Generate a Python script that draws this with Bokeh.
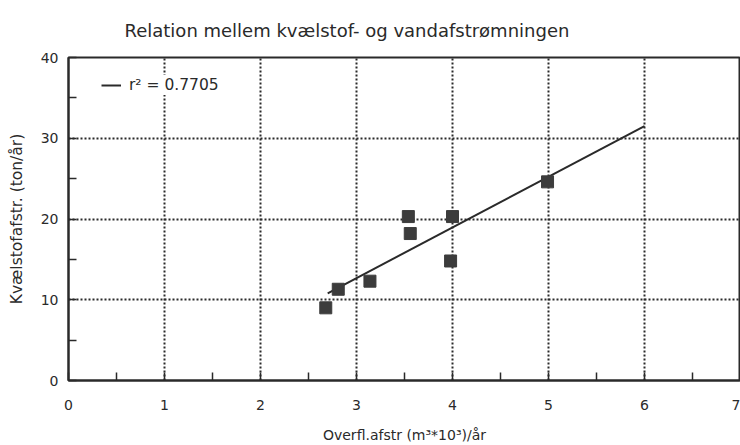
from bokeh.plotting import figure
from bokeh.models import Range1d, FixedTicker, Legend, LegendItem, Title
from bokeh.embed import file_html
from bokeh.resources import INLINE

# Data
flow = [2.68, 2.81, 3.14, 3.54, 3.56, 4.00, 3.98, 4.99]       # Overfl.afstr (m3*10^3)/år
nitrogen = [9.0, 11.3, 12.3, 20.3, 18.2, 20.3, 14.8, 24.6]    # Kvælstofafstr. (ton/år)
fit_x = [2.7, 6.0]
fit_y = [10.8, 31.5]
r2_label = "r² = 0.7705"
title_text = "Relation mellem kvælstof- og vandafstrømningen"
x_ticks = [0, 1, 2, 3, 4, 5, 6, 7]
y_ticks = [0, 10, 20, 30, 40]

FONT = "DejaVu Sans"
INK = "#2a2a2a"

p = figure(width=740, height=445, output_backend="svg", toolbar_location=None,
           x_range=Range1d(0, 7), y_range=Range1d(0, 40),
           min_border_left=68, min_border_right=0, min_border_top=57, min_border_bottom=62,
           title=Title(text=title_text, text_font=FONT, text_font_size="18px",
                       text_font_style="normal", text_color=INK, align="left",
                       offset=56, standoff=34))

p.outline_line_color = INK
p.outline_line_width = 2
p.background_fill_color = "white"
p.border_fill_color = "white"

for ax in (p.xaxis[0], p.yaxis[0]):
    ax.axis_line_color = INK
    ax.axis_line_width = 2
    ax.major_tick_in = 8
    ax.major_tick_out = 0
    ax.minor_tick_in = 8
    ax.minor_tick_out = 0
    ax.major_tick_line_color = INK
    ax.minor_tick_line_color = INK
    ax.major_tick_line_width = 1.5
    ax.minor_tick_line_width = 1.5
    ax.major_label_text_font = FONT
    ax.major_label_text_font_size = "14px"
    ax.major_label_text_color = INK
    ax.axis_label_text_font = FONT
    ax.axis_label_text_font_style = "normal"
    ax.axis_label_text_color = INK

p.xaxis.axis_label_text_font_size = "14px"
p.yaxis.axis_label_text_font_size = "15.5px"
p.xaxis.ticker = FixedTicker(ticks=x_ticks, minor_ticks=[v + 0.5 for v in x_ticks[:-1]])
p.yaxis.ticker = FixedTicker(ticks=y_ticks, minor_ticks=[v + 5 for v in y_ticks[:-1]])
p.xaxis.axis_label = "Overfl.afstr (m³*10³)/år"
p.yaxis.axis_label = "Kvælstofafstr. (ton/år)"
p.xaxis.major_label_standoff = 19
p.yaxis.major_label_standoff = 10
p.xaxis.axis_label_standoff = 14
p.yaxis.axis_label_standoff = 12

for g in (p.xgrid[0], p.ygrid[0]):
    g.grid_line_color = INK
    g.grid_line_width = 2
    g.grid_line_dash = "2 2"
p.xgrid.ticker = FixedTicker(ticks=x_ticks)
p.ygrid.ticker = FixedTicker(ticks=y_ticks)

fit = p.line(fit_x, fit_y, line_color=INK, line_width=2)
p.scatter(flow, nitrogen, marker="square", size=12, fill_color="#3c3c3c",
          line_color="#3c3c3c")

legend = Legend(items=[LegendItem(label=r2_label, renderers=[fit])],
                location=(33, 285), padding=12, spacing=0,
                border_line_color=None, background_fill_color="white",
                background_fill_alpha=1.0,
                label_text_font=FONT, label_text_font_size="15.5px",
                label_text_color=INK, glyph_width=20, glyph_height=20,
                label_height=20, label_standoff=8)
p.add_layout(legend, "center")

open("out.html", "w").write(file_html(p, INLINE))
